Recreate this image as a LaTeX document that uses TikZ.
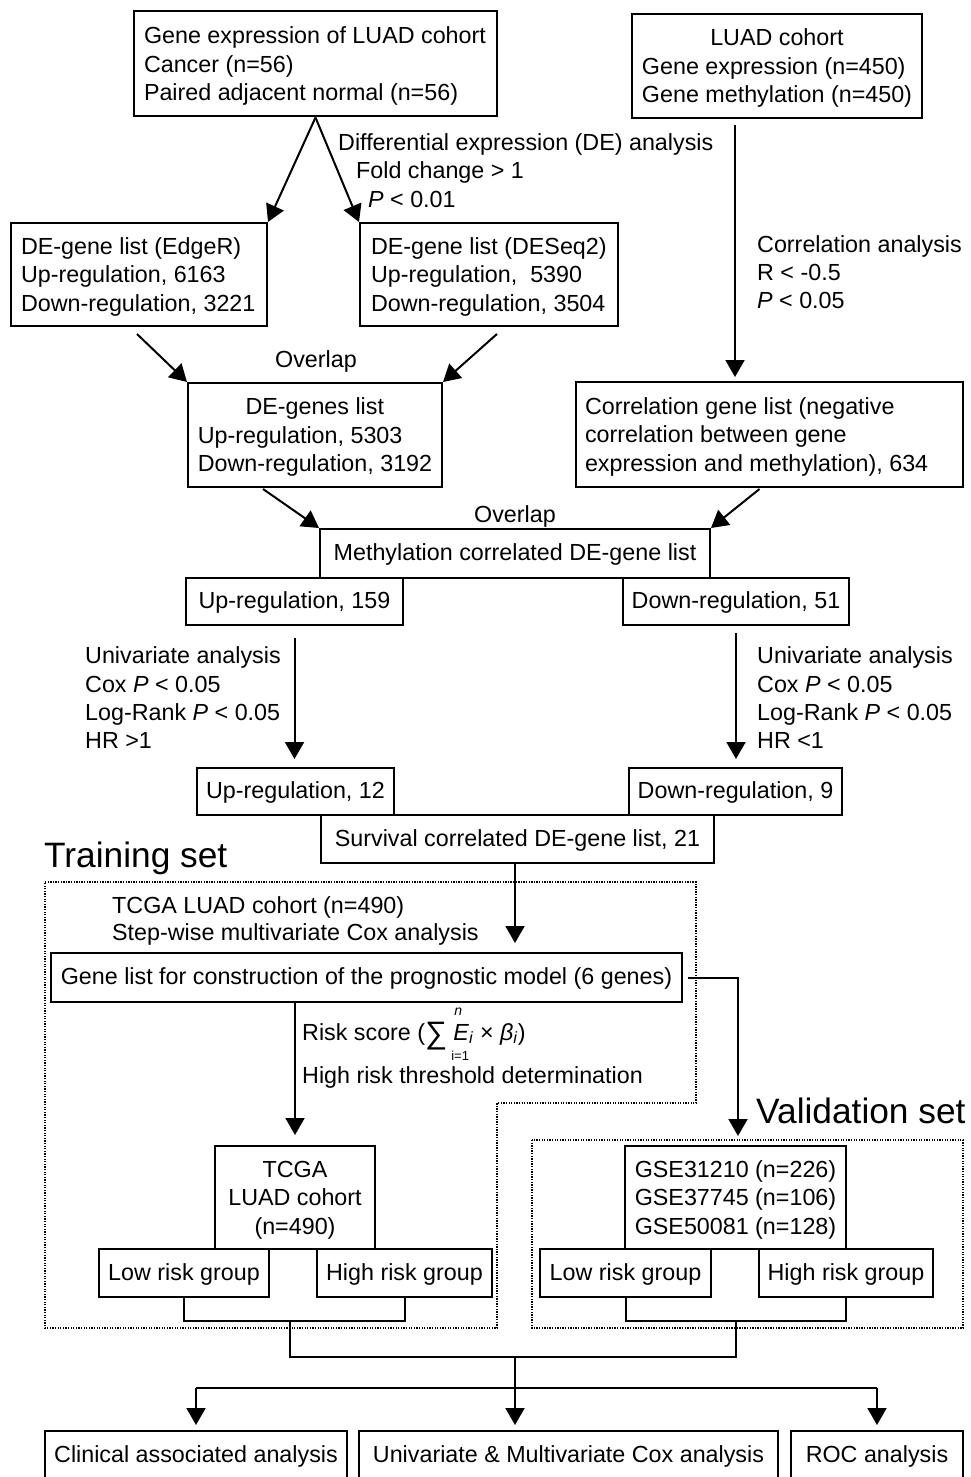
\documentclass[tikz,border=0pt]{standalone}
\usepackage{fontspec}
\setmainfont{Liberation Sans}
\usetikzlibrary{arrows.meta}
\newcommand{\fstrut}{\rule{0pt}{21pt}}
\newcommand{\fl}[2]{\makebox[#1][l]{\fstrut #2}}
\newcommand{\fc}[2]{\makebox[#1][c]{\fstrut #2}}
\begin{document}
\begin{tikzpicture}[x=1pt,y=-1pt,
  every node/.style={font=\fontsize{23.3}{28.5}\selectfont, inner sep=0pt},
  box/.style={draw, line width=2pt, align=left},
  cbox/.style={draw, line width=2pt, align=center},
  sbox/.style={draw, line width=2pt, align=center, text height=17pt, text depth=3pt},
  lbl/.style={anchor=base west},
  arr/.style={line width=2pt, -{Triangle[length=17pt,width=19pt]}},
  ln/.style={line width=2pt},
  dotbox/.style={line width=1.3pt, dash pattern=on 1.3pt off 1.3pt},
  head/.style={font=\fontsize{35.3}{40}\selectfont, anchor=base west}]
\useasboundingbox (0,0) rectangle (970,1477);
\clip (0,0) rectangle (970,1477);
\fill[white] (0,0) rectangle (970,1477);

% ---------- top boxes ----------
\node[box, minimum width=363pt, minimum height=105pt] (A) at (315.5,64)
  {\fl{343pt}{Gene expression of LUAD cohort}\\Cancer (n=56)\\Paired adjacent normal (n=56)};
\node[box, minimum width=290pt, minimum height=104pt] (B) at (777,66)
  {\fc{270pt}{LUAD cohort}\\Gene expression (n=450)\\Gene methylation (n=450)};
\node[box, minimum width=256pt, minimum height=103pt] (C) at (139,274.5)
  {\fl{236pt}{DE-gene list (EdgeR)}\\Up-regulation, 6163\\Down-regulation, 3221};
\node[box, minimum width=258pt, minimum height=103pt] (D) at (489,274.5)
  {\fl{236pt}{DE-gene list (DESeq2)}\\Up-regulation,\ \ 5390\\Down-regulation, 3504};
\node[box, minimum width=254pt, minimum height=104pt] (E) at (315,435)
  {\fc{234pt}{DE-genes list}\\Up-regulation, 5303\\Down-regulation, 3192};
\node[box, minimum width=387pt, minimum height=105pt] (F) at (769.5,434.5)
  {\fl{369pt}{Correlation gene list (negative}\\correlation between gene\\expression and methylation), 634};
\node[sbox, minimum width=390pt, minimum height=49pt] (G) at (515,553.5)
  {Methylation correlated DE-gene list};
\node[sbox, minimum width=217pt, minimum height=47pt] (H) at (294.5,601.5) {Up-regulation, 159};
\node[sbox, minimum width=226pt, minimum height=47pt] (I) at (736,601.5) {Down-regulation, 51};
\node[sbox, minimum width=197pt, minimum height=47pt] (J) at (295.5,791.5) {Up-regulation, 12};
\node[sbox, minimum width=213pt, minimum height=47pt] (K) at (735.5,791.5) {Down-regulation, 9};
\node[sbox, minimum width=393pt, minimum height=48pt] (L) at (517.5,839) {Survival correlated DE-gene list, 21};
\node[sbox, minimum width=631pt, minimum height=49pt] (M) at (366.5,977.5)
  {Gene list for construction of the prognostic model (6 genes)};

% ---------- lower boxes ----------
\node[cbox, minimum width=160pt, minimum height=103pt] (T) at (295,1197.5) {\fstrut TCGA\\LUAD cohort\\(n=490)};
\node[sbox, minimum width=170pt, minimum height=48pt] (TL) at (184,1273) {Low risk group};
\node[sbox, minimum width=175pt, minimum height=48pt] (TH) at (404.5,1273) {High risk group};
\node[box, minimum width=221pt, minimum height=103pt] (V) at (735.5,1197.5)
  {\fl{201pt}{GSE31210 (n=226)}\\GSE37745 (n=106)\\GSE50081 (n=128)};
\node[sbox, minimum width=171pt, minimum height=48pt] (VL) at (625.5,1273) {Low risk group};
\node[sbox, minimum width=174pt, minimum height=48pt] (VH) at (846,1273) {High risk group};
\node[sbox, minimum width=302pt, minimum height=48pt] (R1) at (196,1455) {Clinical associated analysis};
\node[sbox, minimum width=419pt, minimum height=48pt] (R2) at (568.5,1455) {Univariate \& Multivariate Cox analysis};
\node[sbox, minimum width=172pt, minimum height=48pt] (R3) at (877,1455) {ROC analysis};

% ---------- dotted regions and headings ----------
\draw[dotbox] (45,882) -- (696,882) -- (696,1103) -- (497,1103) -- (497,1328) -- (45,1328) -- cycle;
\draw[dotbox] (532,1140) rectangle (963,1328);
\node[head] (trainset) at (44,867) {Training set};
\node[head] (valset) at (756,1123) {Validation set};

% ---------- labels ----------
\node[lbl] (de1) at (338,150) {Differential expression (DE) analysis};
\node[lbl] (de2) at (356,178) {Fold change > 1};
\node[lbl] (de3) at (368,207) {\textit{P} < 0.01};
\node[lbl] (co1) at (757,252) {Correlation analysis};
\node[lbl] (co2) at (757,280) {R < -0.5};
\node[lbl] (co3) at (757,308) {\textit{P} < 0.05};
\node[anchor=base] (ov1) at (316,367) {Overlap};
\node[anchor=base] (ov2) at (515,522) {Overlap};
\node[lbl] (ul1) at (85,663) {Univariate analysis};
\node[lbl] (ul2) at (85,692) {Cox \textit{P} < 0.05};
\node[lbl] (ul3) at (85,720) {Log-Rank \textit{P} < 0.05};
\node[lbl] (ul4) at (85,748) {HR >1};
\node[lbl] (ur1) at (757,663) {Univariate analysis};
\node[lbl] (ur2) at (757,692) {Cox \textit{P} < 0.05};
\node[lbl] (ur3) at (757,720) {Log-Rank \textit{P} < 0.05};
\node[lbl] (ur4) at (757,748) {HR <1};
\node[lbl] (tc1) at (112,913) {TCGA LUAD cohort (n=490)};
\node[lbl] (tc2) at (112,940) {Step-wise multivariate Cox analysis};
\node[lbl] (rs1) at (302,1040) {Risk score (\raisebox{-3pt}{\fontsize{31}{31}\selectfont ∑}\hspace{6pt}\rlap{\hspace{1pt}\raisebox{25pt}{\fontsize{14}{14}\selectfont\textit{n}}}\rlap{\hspace{-2pt}\raisebox{-20pt}{\fontsize{13}{13}\selectfont i=1}}\textit{E}\textsubscript{\textit{i}} × \textit{β}\textsubscript{\textit{i}})};
\node[lbl] (rs2) at (302,1083) {High risk threshold determination};

% ---------- connectors ----------
\coordinate (xB) at (735,0);
\coordinate (xL) at (515,0);
\coordinate (xV) at (738,0);
\draw[arr] (A.south) -- (C.north east);
\draw[arr] (A.south) -- (D.north west);
\draw[arr, shorten <=6pt, shorten >=4pt] (B.south -| xB) -- (F.north -| xB);
\draw[arr] ([shift={(-2,7)}]C.south) -- (E.north west);
\draw[arr] ([shift={(8,7)}]D.south) -- (E.north east);
\draw[arr] ([shift={(-52,1)}]E.south) -- (G.north west);
\draw[arr] ([shift={(-10,1)}]F.south) -- (G.north east);
\draw[arr, shorten <=12pt, shorten >=8pt] (H.south) -- (H.south |- J.north);
\draw[arr, shorten <=7pt, shorten >=8pt] (I.south) -- (I.south |- K.north);
\draw[arr, shorten >=9pt] (L.south -| xL) -- (M.north -| xL);
\draw[arr, shorten >=10pt] (M.south -| T.north) -- (T.north);
\draw[arr, shorten >=9pt] ([xshift=5pt]M.east) -- (M.east -| xV) -- (V.north -| xV);
\draw[ln] (TL.south) -- ++(0,23) coordinate (tb1) -| (TH.south);
\draw[ln] (VL.south) -- ++(0,23) coordinate (vb1) -| (VH.south);
\coordinate (tb) at (290,1320);
\coordinate (vb) at (736,1320);
\coordinate (j1) at (515,1357);
\coordinate (j2) at (515,1388);
\draw[ln] (tb) -- (tb |- j1) -- (vb |- j1) -- (vb);
\draw[ln] (j1) -- (j2);
\draw[ln] (j2 -| R1.north) -- (j2 -| R3.north);
\draw[arr, shorten >=5pt] (j2 -| R1.north) -- (R1.north);
\draw[arr, shorten >=5pt] (j2) -- (j2 |- R2.north);
\draw[arr, shorten >=5pt] (j2 -| R3.north) -- (R3.north);
\end{tikzpicture}
\end{document}
